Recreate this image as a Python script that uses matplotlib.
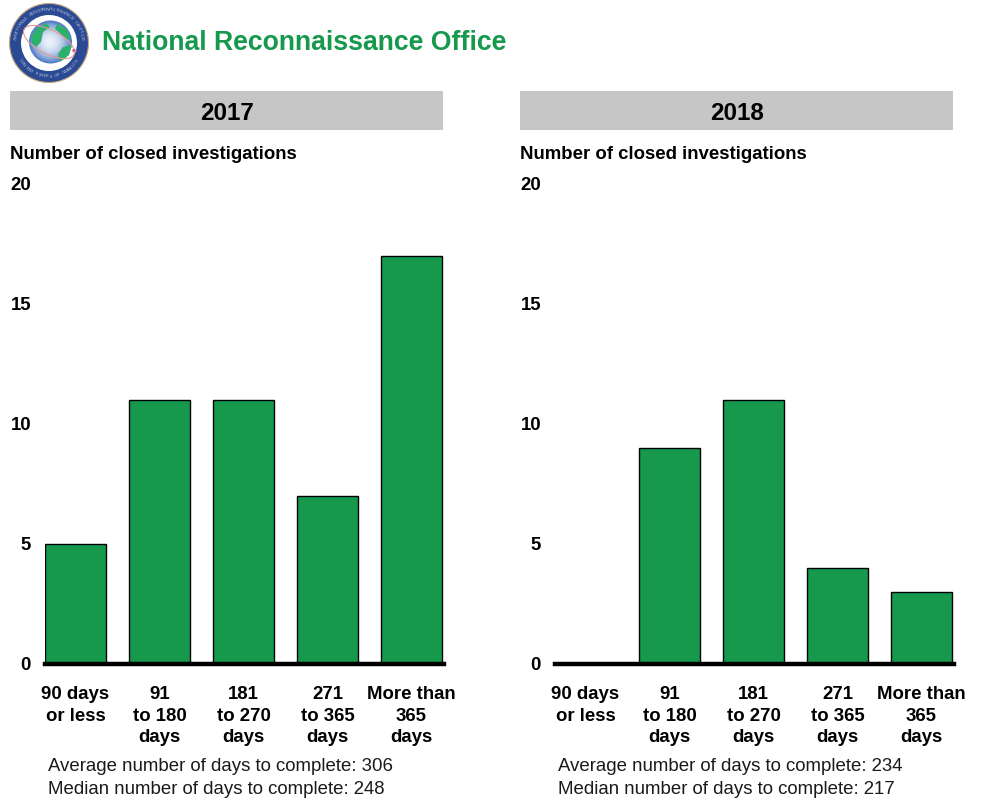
import matplotlib
matplotlib.use('Agg')
import matplotlib.pyplot as plt
import numpy as np
from matplotlib.patches import Circle, Ellipse, Polygon, Rectangle

categories = ['90 days\nor less', '91\nto 180\ndays', '181\nto 270\ndays',
              '271\nto 365\ndays', 'More than\n365\ndays']
years = ['2017', '2018']
closed_2017 = [5, 11, 11, 7, 17]
closed_2018 = [0, 9, 11, 4, 3]
average_days = [306, 234]
median_days = [248, 217]
y_ticks = [0, 5, 10, 15, 20]
title = 'National Reconnaissance Office'
y_title = 'Number of closed investigations'

W, H = 983, 801
GREEN = '#16984D'
plt.rcParams['font.family'] = ['Liberation Sans', 'DejaVu Sans']

fig = plt.figure(figsize=(W / 100, H / 100), dpi=100)


def px_text(x, y, s, **kw):
    fig.text(x / W, 1 - y / H, s, **kw)


def draw_panel(off, year, values, avg, med):
    # header band
    fig.add_artist(Rectangle(((10 + off) / W, 1 - 130 / H), 433 / W, 39 / H,
                             transform=fig.transFigure, color='#C6C6C6', lw=0))
    px_text(227 + off, 113, year, ha='center', va='center',
            fontsize=17.4, fontweight='bold')
    px_text(10.5 + off, 154.5, y_title, ha='left', va='center',
            fontsize=13.4, fontweight='bold')

    ax = fig.add_axes([(45 + off) / W, 1 - 664 / H, 399 / W, 480 / H])
    ax.patch.set_alpha(0)
    ax.bar(range(5), values, width=61 / 84, color=GREEN, edgecolor='black',
           linewidth=1.0, zorder=2)
    ax.set_xlim(-30.5 / 84, 368.5 / 84)
    ax.set_ylim(0, 20)
    ax.set_yticks(y_ticks)
    ax.set_xticks(range(5))
    ax.set_xticklabels(categories, fontsize=13.4, fontweight='bold',
                       linespacing=1.33)
    for lab in ax.get_yticklabels():
        lab.set_fontsize(13.4)
        lab.set_fontweight('bold')
        lab.set_verticalalignment('center_baseline')
    ax.tick_params(axis='both', length=0)
    ax.tick_params(axis='y', pad=10)
    ax.tick_params(axis='x', pad=16)
    for side in ['top', 'left', 'right']:
        ax.spines[side].set_visible(False)
    ax.spines['bottom'].set_linewidth(3.2)
    ax.spines['bottom'].set_color('black')
    ax.spines['bottom'].set_zorder(3)

    px_text(48 + off, 766.5, 'Average number of days to complete: %d' % avg,
            ha='left', va='center', fontsize=13.45, color='#1a1a1a')
    px_text(48 + off, 790, 'Median number of days to complete: %d' % med,
            ha='left', va='center', fontsize=13.45, color='#1a1a1a')


def ring_text(ax, s, radius, start, end, fontsize, color):
    # letters set one by one around the seal
    angles = np.linspace(start, end, len(s))
    for ch, a in zip(s, angles):
        r = np.deg2rad(a)
        rot = a - 90 if 0 <= a <= 180 else a + 90
        ax.text(radius * np.cos(r), radius * np.sin(r), ch, fontsize=fontsize,
                color=color, rotation=rot, ha='center', va='center',
                rotation_mode='anchor', family='Liberation Serif')


def draw_seal():
    ax = fig.add_axes([8 / W, 1 - 84 / H, 82 / W, 82 / H])
    ax.set_xlim(-41, 41)
    ax.set_ylim(-41, 41)
    ax.axis('off')
    ax.add_patch(Circle((0, 0), 39.5, fc='#2A4A94', ec='#C9A778', lw=0.8))
    ax.add_patch(Circle((0, 0), 28, fc='white', ec='none'))
    # globe shading, light in the middle, blue at the rim
    for r in np.arange(21.5, 0, -1.0):
        t = r / 21.5
        c = (0.93 - 0.62 * t ** 2, 0.95 - 0.47 * t ** 2, 0.98 - 0.2 * t ** 2)
        ax.add_patch(Circle((1.5 - (21.5 - r) * 0.05, 1 + (21.5 - r) * 0.02), r,
                            fc=c, ec='none'))
    land = [
        [(-18, 6), (-13, 14), (-3, 20), (1, 16), (-6, 11), (-8, 1), (-13, -4),
         (-17, 0)],
        [(8, 19), (18, 14), (22, 3), (17, 4), (12, 9), (6, 14)],
        [(9, -11), (14, -4), (23, -2), (20, -12), (11, -19)],
    ]
    for pts in land:
        ax.add_patch(Polygon(pts, closed=True, fc='#2CB06C', ec='none'))
    ax.add_patch(Ellipse((0, 1), 56, 24, angle=-27, fc='none', ec='#E59A8E', lw=0.8))
    ax.add_patch(Circle((25, -7.5), 2, fc='#E0568C', ec='white', lw=0.3))
    ring_text(ax, 'NATIONAL RECONNAISSANCE OFFICE', 33.5, 172, 8, 3.8, '#DDE1EC')
    ring_text(ax, 'UNITED STATES OF AMERICA', 33.5, 213, 327, 3.2, '#DDE1EC')


draw_seal()
px_text(102, 43.5, title, ha='left', va='center', fontsize=19.2,
        fontweight='bold', color=GREEN)

draw_panel(0, years[0], closed_2017, average_days[0], median_days[0])
draw_panel(510, years[1], closed_2018, average_days[1], median_days[1])

fig.savefig('out.png', dpi=100)
